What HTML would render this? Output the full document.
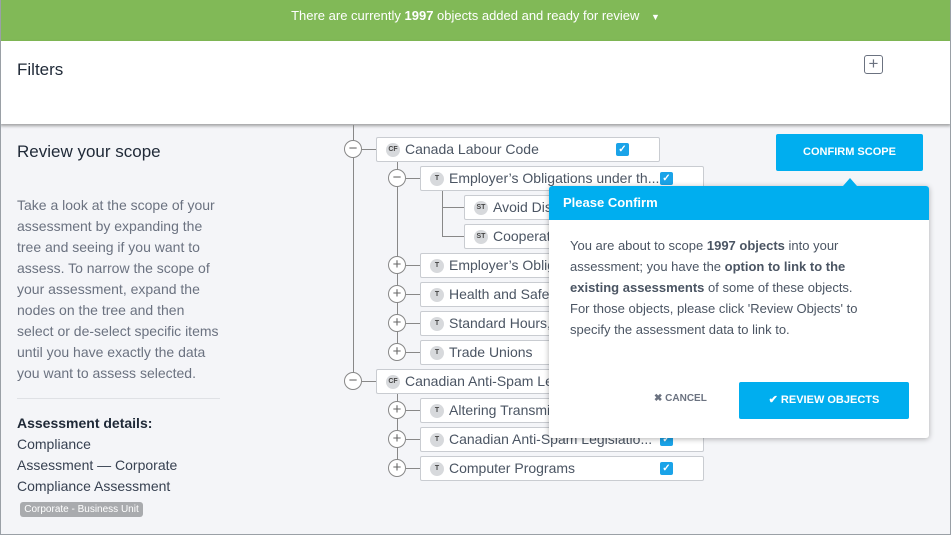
<!DOCTYPE html>
<html><head><meta charset="utf-8"><style>
*{box-sizing:border-box;margin:0;padding:0}
body{width:951px;height:535px;overflow:hidden;background:#f4f5f8;font-family:"Liberation Sans",sans-serif;position:relative}
.frame{position:absolute;left:0;top:0;width:951px;height:535px;border:1px solid #9aa0a6;border-top:none;pointer-events:none;z-index:50}
.green{position:absolute;left:0;top:0;width:951px;height:41px;background:#81b957;color:#fff;font-size:13px;text-align:center;line-height:32px}
.filters{position:absolute;left:0;top:41px;width:951px;height:83px;background:#fff;box-shadow:0 2px 3px rgba(0,0,0,.35)}
.abs{position:absolute}
.lt{color:#6b7280;font-size:14px;line-height:21px;white-space:nowrap}
.node{position:absolute;height:25px;background:#fff;border:1px solid #c9ccd1;border-radius:2px;font-size:14px;color:#4b5563;line-height:23px;padding-left:28px;white-space:nowrap;overflow:hidden}
.node .b{position:absolute;left:9px;top:5px;width:14px;height:14px;border-radius:50%;background:#d7d9dc;font-size:7px;line-height:14px;text-align:center;color:#444;font-weight:bold}
.cb{position:absolute;width:13px;height:13px;background:#1aa3e8;border-radius:2px;color:#fff;font-size:10px;line-height:13px;text-align:center;font-weight:bold}
.circ{position:absolute;width:18px;height:18px;border:1px solid #888;border-radius:50%;background:#fff;color:#666;font-size:15px;line-height:15px;text-align:center}
.vl{position:absolute;width:1px;background:#888}
.hl{position:absolute;height:1px;background:#888}
</style></head><body>
<div class="green">There are currently <b>1997</b> objects added and ready for review <span style="font-size:9px;margin-left:8px">&#9660;</span></div>
<div class="filters"><div class="abs" style="left:17px;top:19px;font-size:17px;color:#1f2937">Filters</div>
<div class="abs" style="left:864px;top:14px;width:19px;height:19px;border:1.5px solid #6b7280;border-radius:3px;color:#6b7280;font-size:17px;line-height:15px;text-align:center">+</div></div>

<div class="abs" style="left:17px;top:142px;font-size:17px;color:#1f2937">Review your scope</div>
<div class="abs lt" style="left:17px;top:195px">Take a look at the scope of your<br>assessment by expanding the<br>tree and seeing if you want to<br>assess. To narrow the scope of<br>your assessment, expand the<br>nodes on the tree and then<br>select or de-select specific items<br>until you have exactly the data<br>you want to assess selected.</div>
<div class="abs" style="left:17px;top:398px;width:203px;height:1px;background:#dfe1e5"></div>
<div class="abs" style="left:17px;top:413px;font-size:14px;line-height:21px;color:#374151"><b style="color:#1f2937">Assessment details:</b><br>Compliance<br>Assessment — Corporate<br>Compliance Assessment</div>
<div class="abs" style="left:20px;top:502px;width:123px;height:15px;background:#a9abae;border-radius:3px;color:#fff;font-size:10px;line-height:15px;text-align:center">Corporate - Business Unit</div>

<div class="vl" style="left:353px;top:125px;height:256px"></div>
<div class="vl" style="left:397px;top:162px;height:190px"></div>
<div class="vl" style="left:397px;top:394px;height:74px"></div>
<div class="vl" style="left:442px;top:190px;height:46px"></div>
<div class="hl" style="left:362px;top:149px;width:14px"></div>
<div class="hl" style="left:362px;top:381px;width:14px"></div>
<div class="hl" style="left:406px;top:178px;width:14px"></div>
<div class="hl" style="left:406px;top:265px;width:14px"></div>
<div class="hl" style="left:406px;top:294px;width:14px"></div>
<div class="hl" style="left:406px;top:323px;width:14px"></div>
<div class="hl" style="left:406px;top:352px;width:14px"></div>
<div class="hl" style="left:406px;top:410px;width:14px"></div>
<div class="hl" style="left:406px;top:439px;width:14px"></div>
<div class="hl" style="left:406px;top:468px;width:14px"></div>
<div class="hl" style="left:442px;top:207px;width:22px"></div>
<div class="hl" style="left:442px;top:236px;width:22px"></div>

<div class="circ" style="left:344px;top:140px">&minus;</div>
<div class="circ" style="left:344px;top:372px">&minus;</div>
<div class="circ" style="left:388px;top:169px">&minus;</div>
<div class="circ" style="left:388px;top:256px">+</div>
<div class="circ" style="left:388px;top:285px">+</div>
<div class="circ" style="left:388px;top:314px">+</div>
<div class="circ" style="left:388px;top:343px">+</div>
<div class="circ" style="left:388px;top:401px">+</div>
<div class="circ" style="left:388px;top:430px">+</div>
<div class="circ" style="left:388px;top:459px">+</div>

<div class="node" style="left:376px;top:137px;width:284px"><span class="b">CF</span>Canada Labour Code<span class="cb" style="left:239px;top:5px">✓</span></div>
<div class="node" style="left:420px;top:166px;width:284px"><span class="b">T</span>Employer’s Obligations under th...<span class="cb" style="left:239px;top:5px">✓</span></div>
<div class="node" style="left:464px;top:195px;width:240px"><span class="b">ST</span>Avoid Discrimination</div>
<div class="node" style="left:464px;top:224px;width:240px"><span class="b">ST</span>Cooperation</div>
<div class="node" style="left:420px;top:253px;width:284px"><span class="b">T</span>Employer’s Obligations</div>
<div class="node" style="left:420px;top:282px;width:284px"><span class="b">T</span>Health and Safety</div>
<div class="node" style="left:420px;top:311px;width:284px"><span class="b">T</span>Standard Hours, Wages</div>
<div class="node" style="left:420px;top:340px;width:284px"><span class="b">T</span>Trade Unions</div>
<div class="node" style="left:376px;top:369px;width:284px"><span class="b">CF</span>Canadian Anti-Spam Legislation</div>
<div class="node" style="left:420px;top:398px;width:284px"><span class="b">T</span>Altering Transmission Data</div>
<div class="node" style="left:420px;top:427px;width:284px"><span class="b">T</span>Canadian Anti-Spam Legislatio...<span class="cb" style="left:239px;top:5px">✓</span></div>
<div class="node" style="left:420px;top:456px;width:284px"><span class="b">T</span>Computer Programs<span class="cb" style="left:239px;top:5px">✓</span></div>

<div class="abs" style="left:776px;top:134px;width:147px;height:37px;background:#00aeef;border-radius:2px;color:#fff;font-size:11px;font-weight:bold;line-height:37px;text-align:center">CONFIRM SCOPE</div>
<div class="abs" style="left:843px;top:178px;width:0;height:0;border-left:7px solid transparent;border-right:7px solid transparent;border-bottom:8px solid #00aeef;z-index:6"></div>
<div class="abs" style="left:549px;top:186px;width:380px;height:252px;background:#fff;border-radius:3px;box-shadow:0 1px 6px rgba(0,0,0,.3);overflow:hidden;z-index:5">
 <div style="height:34px;background:#00aeef;color:#fff;font-weight:bold;font-size:13px;line-height:34px;padding-left:14px">Please Confirm</div>
 <div style="position:absolute;left:21px;top:49px;font-size:13px;line-height:21px;color:#4b5563;white-space:nowrap">You are about to scope <b>1997 objects</b> into your<br>assessment; you have the <b>option to link to the</b><br><b>existing assessments</b> of some of these objects.<br>For those objects, please click 'Review Objects' to<br>specify the assessment data to link to.</div>
 <div style="position:absolute;left:105px;top:207px;font-size:10px;color:#6b7280;font-weight:bold">✖ CANCEL</div>
 <div style="position:absolute;left:190px;top:196px;width:170px;height:37px;background:#00aeef;border-radius:2px;color:#fff;font-weight:bold;font-size:11px;line-height:37px;text-align:center">✔ REVIEW OBJECTS</div>
</div>
<div class="frame"></div>
</body></html>
